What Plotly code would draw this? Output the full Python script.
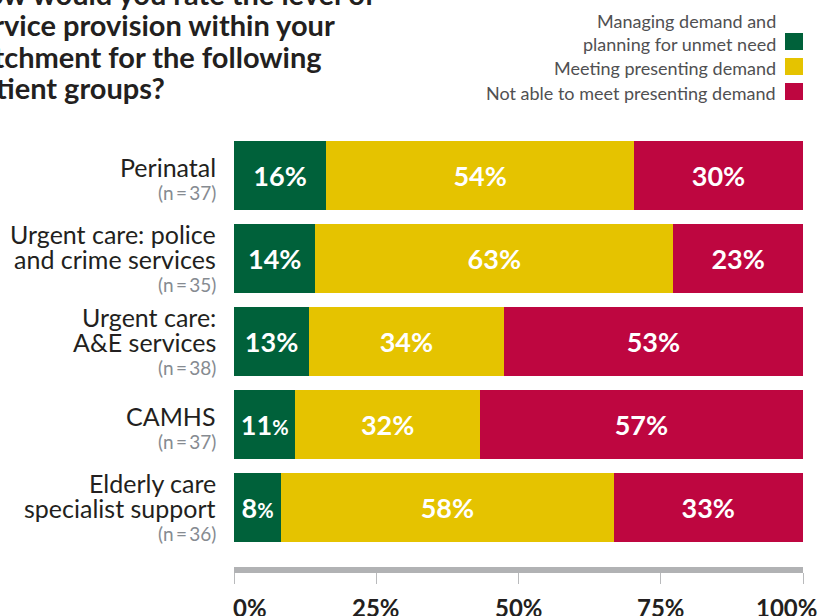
import plotly.graph_objects as go

# data (segment widths in %, labels show rounded values)
groups = [
    ["Perinatal"],
    ["Urgent care: police", "and crime services"],
    ["Urgent care:", "A&E services"],
    ["CAMHS"],
    ["Elderly care", "specialist support"],
]
sample_sizes = [37, 35, 38, 37, 36]
series_names = [
    "Managing demand and<br>planning for unmet need",
    "Meeting presenting demand",
    "Not able to meet presenting demand",
]
managing = [16.2, 14.3, 13.2, 10.8, 8.3]
meeting = [54.1, 62.9, 34.2, 32.4, 58.4]
not_able = [29.7, 22.8, 52.6, 56.8, 33.3]
tick_vals = [0, 25, 50, 75, 100]
tick_labels = ["0%", "25%", "50%", "75%", "100%"]
title_lines = [
    "How would you rate the level of",
    "service provision within your",
    "catchment for the following",
    "patient groups?",
]

colors = ["#00613a", "#e5c300", "#be0640"]
FONT = "Lato"
W, H = 826, 616
L, R, T, B = 234, 23, 134, 49
PW, PH = W - L - R, H - T - B


def px_x(px):
    return (px - L) / PW


def px_y(py):
    return 1 - (py - T) / PH


cat_keys = [" ".join(g) for g in groups]


def pct_text(v):
    v = round(v)
    # narrow segments use a smaller percent sign, as in the original
    if v <= 11:
        return f"{v}<span style='font-size:20px'>%</span>"
    return f"{v}%"


fig = go.Figure()
for name, vals, col in zip(series_names, [managing, meeting, not_able], colors):
    fig.add_trace(go.Bar(
        y=cat_keys, x=vals, name=name, orientation="h",
        marker=dict(color=col, line=dict(width=0)),
        text=[pct_text(v) for v in vals],
        textposition="inside", insidetextanchor="middle",
        textangle=0, constraintext="none",
        textfont=dict(family=FONT, size=27, color="white", weight="bold"),
        hoverinfo="x+y", showlegend=False,
    ))

annotations = []

# category labels, right aligned next to bars (tight leading, one line per annotation)
LINE = 24.5
for key, lines, n in zip(cat_keys, groups, sample_sizes):
    k = len(lines)
    b0 = -15.5 * (k - 1)
    for i, line in enumerate(lines):
        annotations.append(dict(
            x=0, xref="paper", y=key, yref="y", xanchor="right", yanchor="middle",
            xshift=-16, yshift=-(b0 + LINE * i - 9), showarrow=False, text=line,
            font=dict(family=FONT, size=25, color="#231f20"),
        ))
    annotations.append(dict(
        x=0, xref="paper", y=key, yref="y", xanchor="right", yanchor="middle",
        xshift=-16, yshift=-(b0 + LINE * (k - 1) + 24 - 7), showarrow=False,
        text=f"(n\u2009=\u2009{n})",
        font=dict(family=FONT, size=19, color="#868b91"),
    ))

# x tick labels (end labels pulled inward)
shifts = [16, 0, 0, 0, -17]
for v, lab, s in zip(tick_vals, tick_labels, shifts):
    annotations.append(dict(
        x=v, xref="x", y=px_y(607), yref="paper", xanchor="center", yanchor="middle",
        xshift=s, showarrow=False, text=lab,
        font=dict(family=FONT, size=24, color="#231f20", weight="bold"),
    ))

# title (cropped at the left/top in the original), one annotation per line
title_centers = [-7, 24, 56, 87]
for line, cy in zip(title_lines, title_centers):
    annotations.append(dict(
        x=px_x(-37), xref="paper", y=px_y(cy), yref="paper", xanchor="left",
        yanchor="middle", align="left", showarrow=False, text=line,
        font=dict(family=FONT, size=29, color="#231f20", weight="bold"),
    ))

# legend: text right aligned, swatch on the right
legend_centers = [32, 68, 93]
swatch_centers = [41.5, 66.5, 91.5]
shapes = []
for name, col, cy, sy in zip(series_names, colors, legend_centers, swatch_centers):
    annotations.append(dict(
        x=px_x(778), xref="paper", y=px_y(cy), yref="paper", xanchor="right",
        yanchor="middle", align="right", showarrow=False, text=name,
        font=dict(family=FONT, size=18, color="#505052"),
    ))
    shapes.append(dict(
        type="rect", xref="paper", yref="paper",
        x0=px_x(785), x1=px_x(803), y0=px_y(sy - 8.5), y1=px_y(sy + 8.5),
        fillcolor=col, line=dict(width=0),
    ))

fig.update_layout(
    width=W, height=H,
    margin=dict(l=L, r=R, t=T, b=B),
    barmode="stack", bargap=0.18,
    plot_bgcolor="white", paper_bgcolor="white",
    font=dict(family=FONT),
    xaxis=dict(
        range=[0, 100], tickvals=tick_vals, showticklabels=False,
        showgrid=False, zeroline=False,
        showline=True, linewidth=6, linecolor="#b1b2b4",
        ticks="outside", ticklen=11, tickwidth=1.3, tickcolor="#b9babc",
        fixedrange=True,
    ),
    yaxis=dict(
        categoryorder="array", categoryarray=cat_keys,
        range=[len(cat_keys) - 0.5 + 18 / 83, -0.5],
        showticklabels=False, showgrid=False, zeroline=False, showline=False,
        fixedrange=True,
    ),
    annotations=annotations,
    shapes=shapes,
)

fig.write_html("out.html", config={"displayModeBar": False},
               post_script="document.body.style.margin='0';")
